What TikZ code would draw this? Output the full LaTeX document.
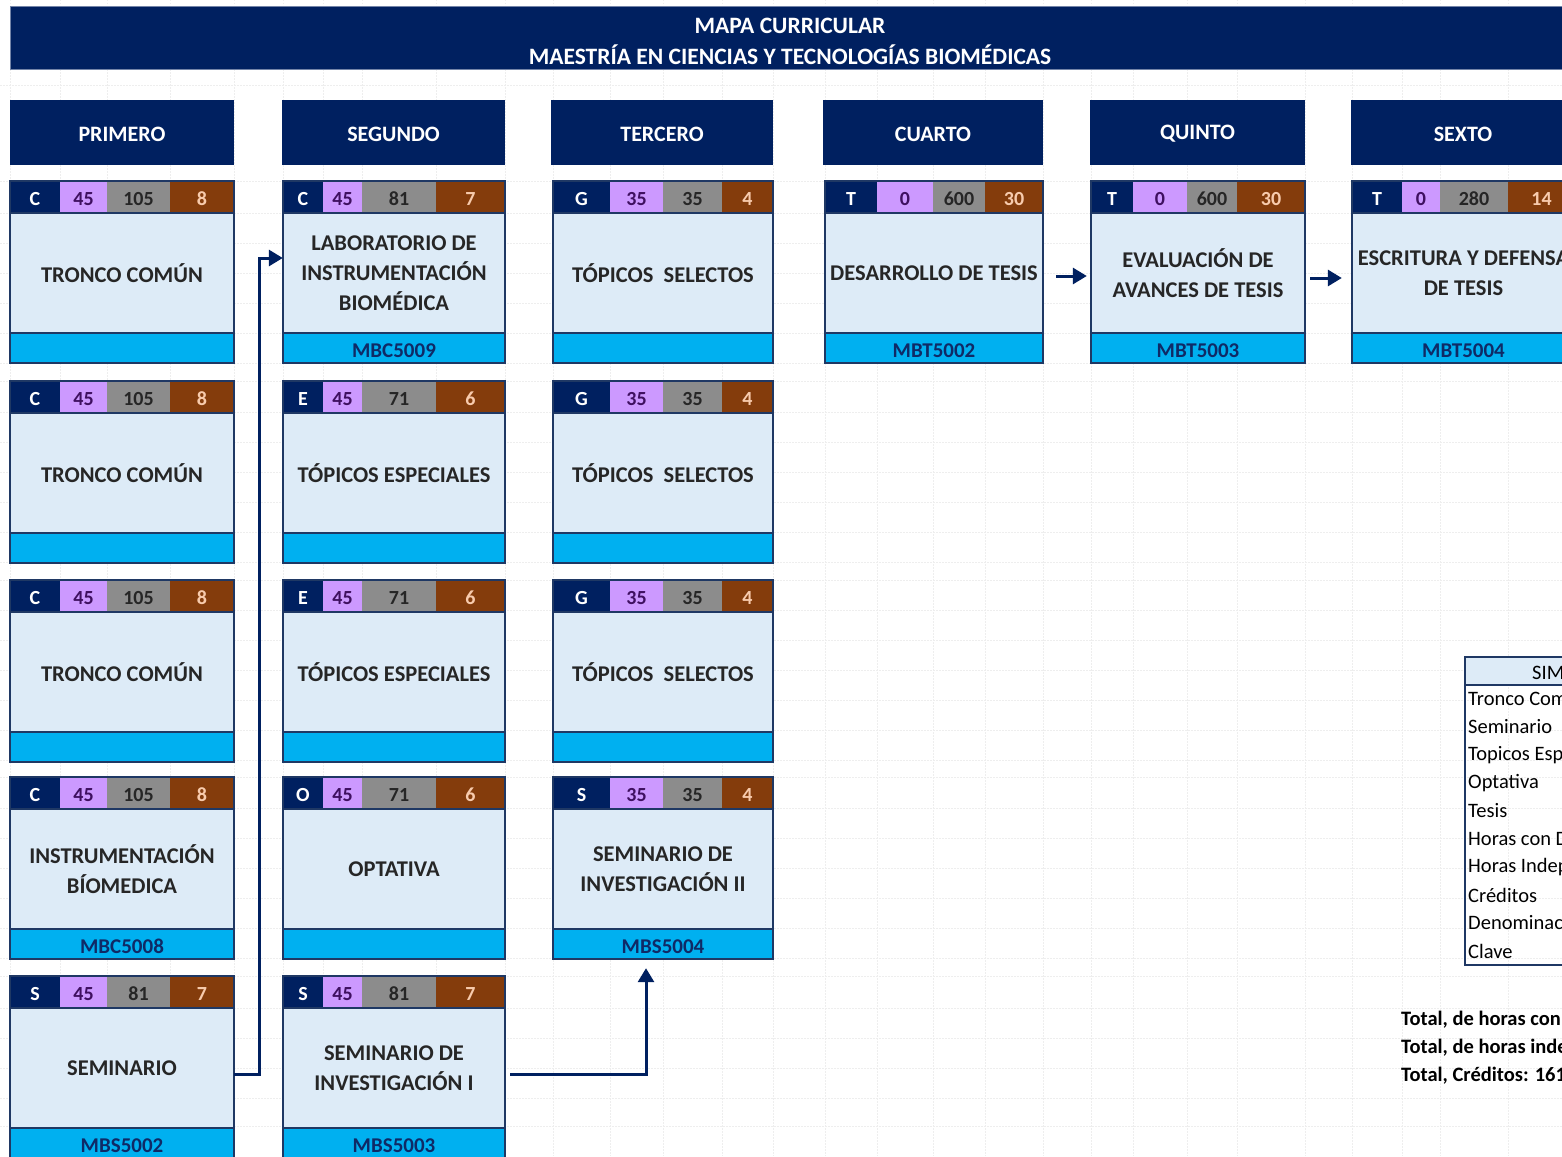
\documentclass[tikz,border=0pt]{standalone}
\usepackage{fontspec}
\setmainfont{Carlito}
\usetikzlibrary{arrows.meta,calc}
\definecolor{navy}{HTML}{002060}
\definecolor{lilac}{HTML}{CC99FF}
\definecolor{graycell}{HTML}{8C8C8C}
\definecolor{browncell}{HTML}{843C0C}
\definecolor{bodyblue}{HTML}{DDEBF7}
\definecolor{cyanc}{HTML}{00B0F0}
\definecolor{peach}{HTML}{F8CBAD}
\definecolor{purpletext}{HTML}{3F1060}
\definecolor{bodytext}{HTML}{262626}
\definecolor{codetext}{HTML}{0F2A66}
\definecolor{cardedge}{HTML}{1F3864}
\definecolor{gridc}{HTML}{EEEEEE}
\newcommand\titfont{\bfseries\fontsize{23.5}{31}\selectfont}
\newcommand\hdrfont{\bfseries\fontsize{22}{26}\selectfont}
\newcommand\stripfont{\bfseries\fontsize{20}{24}\selectfont}
\newcommand\bodyfont{\bfseries\fontsize{22.5}{30}\selectfont}
\newcommand\codefont{\bfseries\fontsize{21}{25}\selectfont}
\newcommand\legfont{\fontsize{20.5}{25}\selectfont}
\newcommand\totfont{\bfseries\fontsize{20.5}{25}\selectfont}
\newcommand\lowertxt[2]{\raisebox{-#1}[\height][\depth]{#2}}
\newcommand\setcol[5]{\def\xa{#1}\def\xb{#2}\def\xc{#3}\def\xd{#4}\def\xe{#5}}
\newcommand\card[8]{%
  \fill[navy] (\xa,#2) rectangle (\xb,{#2+32});
  \fill[lilac] (\xb,#2) rectangle (\xc,{#2+32});
  \fill[graycell] (\xc,#2) rectangle (\xd,{#2+32});
  \fill[browncell] (\xd,#2) rectangle (\xe,{#2+32});
  \node[stripT] (#1-t) at ({(\xa+\xb)/2},{#2+18}) {#3};
  \node[stripH] (#1-h) at ({(\xb+\xc)/2},{#2+18}) {#4};
  \node[stripI] (#1-i) at ({(\xc+\xd)/2},{#2+18}) {#5};
  \node[stripC] (#1-c) at ({(\xd+\xe)/2},{#2+18}) {#6};
  \node[bodybox, minimum width={(\xe-\xa)*1pt}] (#1) at ({(\xa+\xe)/2},{#2+92}) {#7};
  \node[codebox, minimum width={(\xe-\xa)*1pt}] (#1-k) at ({(\xa+\xe)/2},{#2+167}) {\lowertxt{2.5pt}{#8}};
  \draw[cardline] (\xa,#2) rectangle (\xe,{#2+182});
  \draw[cardline] (\xa,{#2+152}) -- (\xe,{#2+152});
  \draw[cardline] (\xa,{#2+32}) -- (\xe,{#2+32});
}
\tikzset{
  gridl/.style={draw=gridc, line width=0.6pt, dash pattern=on 1.5pt off 1.5pt},
  titlebar/.style={fill=navy, draw=navy!55, line width=1pt, inner sep=0pt, minimum height=62pt},
  hdr/.style={fill=navy, text=white, font=\hdrfont, inner sep=0pt, minimum height=65pt},
  stripT/.style={text=white, font=\stripfont, inner sep=0pt},
  stripH/.style={text=purpletext, font=\stripfont, inner sep=0pt},
  stripI/.style={text=black!85, font=\stripfont, inner sep=0pt},
  stripC/.style={text=peach, font=\stripfont, inner sep=0pt},
  bodybox/.style={fill=bodyblue, text=bodytext, font=\bodyfont, align=center, inner sep=0pt, minimum height=120pt},
  codebox/.style={fill=cyanc, text=codetext, font=\codefont, inner sep=0pt, minimum height=30pt},
  cardline/.style={draw=cardedge, line width=1.2pt},
  arr/.style={draw=navy, line width=3pt, -{Triangle[length=14pt,width=16pt]}},
  legline/.style={draw=cardedge, line width=1.2pt},
  legtext/.style={font=\legfont, text=black, inner sep=0pt, anchor=west},
  tottext/.style={font=\totfont, text=black, inner sep=0pt, anchor=west}
}
\begin{document}
\begin{tikzpicture}[x=1pt,y=-1pt]
\useasboundingbox (0,0) rectangle (1562,1156);
\clip (0,0) rectangle (1562,1156);
\fill[white] (0,0) rectangle (1562,1156);
% faint spreadsheet grid
\foreach \gx in {10,60,107,170,234,283,323,362,436,505,553,610,663,722,773,825,877,933,985,1043,1091,1133,1187,1237,1305,1352,1402,1440,1508}
  \draw[gridl] (\gx,0) -- (\gx,1156);
\foreach \gy in {85,181,213,243,273,303,333,363,381,412,442,472,502,532,562,580,610,640,670,700,730,760,777,808,838,868,898,928,958,976,1008,1038,1068,1098,1126}
  \draw[gridl] (0,\gy) -- (1562,\gy);
% title
\node[titlebar, minimum width=1565pt] (title) at (792.5,38) {};
\node[text=white, font=\titfont, align=center, inner sep=0pt] (titletext) at (790,41.5) {MAPA CURRICULAR\\MAESTRÍA EN CIENCIAS Y TECNOLOGÍAS BIOMÉDICAS};
% semester headers
\node[hdr, minimum width=224pt] (h1) at (122,132.5) {\lowertxt{1.5pt}{PRIMERO}};
\node[hdr, minimum width=223pt] (h2) at (393.5,132.5) {\lowertxt{1.5pt}{SEGUNDO}};
\node[hdr, minimum width=222pt] (h3) at (662,132.5) {\lowertxt{1.5pt}{TERCERO}};
\node[hdr, minimum width=220pt] (h4) at (933,132.5) {\lowertxt{1.5pt}{CUARTO}};
\node[hdr, minimum width=215pt] (h5) at (1197.5,132.5) {\lowertxt{1.5pt}{QUINTO}};
\node[hdr, minimum width=224pt] (h6) at (1463,132.5) {\lowertxt{1.5pt}{SEXTO}};
% column 1
\setcol{10}{60}{107}{170}{234}
\card{c11}{181}{C}{45}{105}{8}{TRONCO COMÚN}{}
\card{c12}{381}{C}{45}{105}{8}{TRONCO COMÚN}{}
\card{c13}{580}{C}{45}{105}{8}{TRONCO COMÚN}{}
\card{c14}{777}{C}{45}{105}{8}{INSTRUMENTACIÓN\\BÍOMEDICA}{MBC5008}
\card{c15}{976}{S}{45}{81}{7}{SEMINARIO}{MBS5002}
% column 2
\setcol{283}{323}{362}{436}{505}
\card{c21}{181}{C}{45}{81}{7}{LABORATORIO DE\\INSTRUMENTACIÓN\\BIOMÉDICA}{MBC5009}
\card{c22}{381}{E}{45}{71}{6}{TÓPICOS ESPECIALES}{}
\card{c23}{580}{E}{45}{71}{6}{TÓPICOS ESPECIALES}{}
\card{c24}{777}{O}{45}{71}{6}{OPTATIVA}{}
\card{c25}{976}{S}{45}{81}{7}{SEMINARIO DE\\INVESTIGACIÓN I}{MBS5003}
% column 3
\setcol{553}{610}{663}{722}{773}
\card{c31}{181}{G}{35}{35}{4}{TÓPICOS\ \ SELECTOS}{}
\card{c32}{381}{G}{35}{35}{4}{TÓPICOS\ \ SELECTOS}{}
\card{c33}{580}{G}{35}{35}{4}{TÓPICOS\ \ SELECTOS}{}
\card{c34}{777}{S}{35}{35}{4}{SEMINARIO DE\\INVESTIGACIÓN II}{MBS5004}
% columns 4-6
\setcol{825}{877}{933}{985}{1043}
\card{c41}{181}{T}{0}{600}{30}{DESARROLLO DE TESIS}{MBT5002}
\setcol{1091}{1133}{1187}{1237}{1305}
\card{c51}{181}{T}{0}{600}{30}{EVALUACIÓN DE\\AVANCES DE TESIS}{MBT5003}
\setcol{1352}{1402}{1440}{1508}{1575}
\card{c61}{181}{T}{0}{280}{14}{ESCRITURA Y DEFENSA\\DE TESIS}{MBT5004}
% connectors
\coordinate (ya) at (0,1074);
\coordinate (yb) at (0,258);
\coordinate (yc) at (0,276);
\coordinate (yd) at (0,278);
\draw[arr] (c15.east |- ya) -- ++(25,0) |- (c21.west |- yb);
\draw[arr] ($(c25.east |- ya)+(5,0)$) -| ($(c34-k.south)+(-17,9)$);
\draw[arr] ($(c41.east |- yc)+(13,0)$) -- ($(c51.west |- yc)+(-4,0)$);
\draw[arr] ($(c51.east |- yd)+(5,0)$) -- ($(c61.west |- yd)+(-10,0)$);
% legend
\fill[bodyblue] (1465,657) rectangle (1760,685);
\draw[legline] (1465,657) rectangle (1760,965);
\draw[legline] (1465,685) -- (1760,685);
\node[legtext] (lgh) at (1532,671) {SIMBOLOGÍA};
\node[legtext] (lg1) at (1468,699) {Tronco Común};
\node[legtext] (lg2) at (1468,727) {Seminario};
\node[legtext] (lg3) at (1468,755) {Topicos Especiales};
\node[legtext] (lg4) at (1468,783) {Optativa};
\node[legtext] (lg5) at (1468,811) {Tesis};
\node[legtext] (lg6) at (1468,839) {Horas con Docente};
\node[legtext] (lg7) at (1468,867) {Horas Independientes};
\node[legtext] (lg8) at (1468,895) {Créditos};
\node[legtext] (lg9) at (1468,923) {Denominación};
\node[legtext] (lg10) at (1468,951) {Clave};
% totals
\node[tottext] (t1) at (1401,1020) {Total, de horas con docente: 590};
\node[tottext] (t2) at (1401,1048) {Total, de horas independientes: 2496};
\node[tottext] (t3) at (1401,1076) {Total, Créditos: 161};
\end{tikzpicture}
\end{document}
